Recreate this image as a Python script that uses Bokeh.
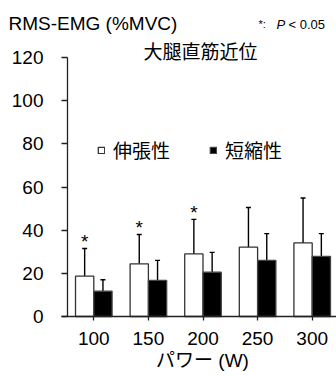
import numpy as np
from bokeh.plotting import figure
from bokeh.models import (ColumnDataSource, Range1d, FixedTicker, Whisker, TeeHead,
                          Legend, LegendItem, Label)
from bokeh.core.properties import value
from bokeh.embed import file_html
from bokeh.resources import INLINE

# ---- data ----
power = ["100", "150", "200", "250", "300"]
ecc_mean = [18.7, 24.4, 29.0, 32.1, 34.1]       # 伸張性
ecc_sd = [12.8, 13.6, 16.0, 18.4, 20.8]
con_mean = [11.7, 16.7, 20.5, 26.0, 27.9]       # 短縮性
con_sd = [5.3, 9.3, 9.2, 12.4, 10.5]
sig = [True, True, True, False, False]
y_ticks = [0, 20, 40, 60, 80, 100, 120]

LAT = "Liberation Sans"
CJK = "Noto Sans CJK JP"
MIX = "Liberation Sans, Noto Sans CJK JP"

W, H = 336, 375
PX_X = 54.6            # px per category
PX_Y = 259 / 120.0     # px per %MVC
X0_PX = 93.3           # canvas x of first category
Y0_PX = 59             # px from canvas bottom to y=0
x_start = -X0_PX / PX_X
y_start = -Y0_PX / PX_Y

x = np.arange(len(power))
bw = 0.335
src_e = ColumnDataSource(dict(x=x - bw / 2, top=ecc_mean,
                              up=[m + s for m, s in zip(ecc_mean, ecc_sd)]))
src_c = ColumnDataSource(dict(x=x + bw / 2, top=con_mean,
                              up=[m + s for m, s in zip(con_mean, con_sd)]))
star_x = [xi - bw / 2 for xi, s in zip(x, sig) if s]
star_y = [m + s for m, s, g in zip(ecc_mean, ecc_sd, sig) if g]
src_s = ColumnDataSource(dict(x=star_x, y=star_y, t=["*"] * len(star_x)))

p = figure(width=W, height=H, output_backend="svg", toolbar_location=None,
           x_range=Range1d(x_start, x_start + W / PX_X),
           y_range=Range1d(y_start, y_start + H / PX_Y),
           min_border=0)
p.outline_line_color = None
p.grid.visible = False
p.background_fill_color = "white"

r_e = p.vbar(x="x", top="top", width=bw, source=src_e, fill_color="white",
             line_color="#333333", line_width=1.3)
r_c = p.vbar(x="x", top="top", width=bw, source=src_c, fill_color="black",
             line_color="#444444", line_width=1.3)

for src in (src_e, src_c):
    w = Whisker(base="x", lower="top", upper="up", source=src, dimension="height",
                line_color="black", line_width=1.4,
                upper_head=TeeHead(size=5, line_color="black", line_width=1.4),
                lower_head=None)
    p.add_layout(w)

p.text(x="x", y="y", text="t", source=src_s, text_font=value(LAT),
       text_font_size="19px", text_align="center", text_baseline="alphabetic",
       y_offset=-7, text_color="black")

# axes (drawn at fixed data positions inside the canvas)
yaxis_x = -26.3 / PX_X
p.xaxis.fixed_location = 0
p.yaxis.fixed_location = yaxis_x
p.xaxis.bounds = (yaxis_x - 6 / PX_X, x_start + W / PX_X)
p.yaxis.bounds = (0, 120)
p.xaxis.ticker = FixedTicker(ticks=list(x))
p.xaxis.major_label_overrides = {int(i): lab for i, lab in zip(x, power)}
p.yaxis.ticker = FixedTicker(ticks=y_ticks)
for ax in (p.xaxis[0], p.yaxis[0]):
    ax.axis_line_color = "#222222"
    ax.axis_line_width = 1.3
    ax.major_tick_line_color = "#222222"
    ax.major_tick_line_width = 1.3
    ax.major_tick_in = 0
    ax.minor_tick_line_color = None
    ax.major_label_text_font = LAT
    ax.major_label_text_font_size = "19px"
    ax.major_label_text_color = "black"
p.xaxis.major_tick_out = 4
p.xaxis.major_label_standoff = 11
p.yaxis.major_tick_out = 6
p.yaxis.major_label_standoff = 18

# legend
legend = Legend(items=[LegendItem(label="伸張性", renderers=[r_e]),
                       LegendItem(label="短縮性", renderers=[r_c])],
                orientation="horizontal", location=(97, 212),
                glyph_width=8, glyph_height=8, label_standoff=8, spacing=39,
                padding=0, margin=0, label_text_font=CJK,
                label_text_font_size="19px", label_text_color="black",
                background_fill_alpha=0, border_line_color=None)
p.add_layout(legend, "center")

# texts (screen px from canvas bottom-left)
def lab(text, x, y, font, size, align="left", style="normal"):
    p.add_layout(Label(x=x, y=y, x_units="screen", y_units="screen", text=text,
                       text_font=font, text_font_size=size, text_align=align,
                       text_baseline="middle", text_font_style=style,
                       text_color="black"))

lab("RMS-EMG (%MVC)", 8, 352, LAT, "19px")
lab("大腿直筋近位", 200, 325, CJK, "19px", align="center")
lab("*:", 258, 352, LAT, "11px")
lab("P", 276, 351, LAT, "13px", style="italic")
lab("< 0.05", 288, 351, LAT, "13px")
lab("パワー (W)", 202, 15, MIX, "19px", align="center")

open("out.html", "w").write(file_html(p, INLINE))
